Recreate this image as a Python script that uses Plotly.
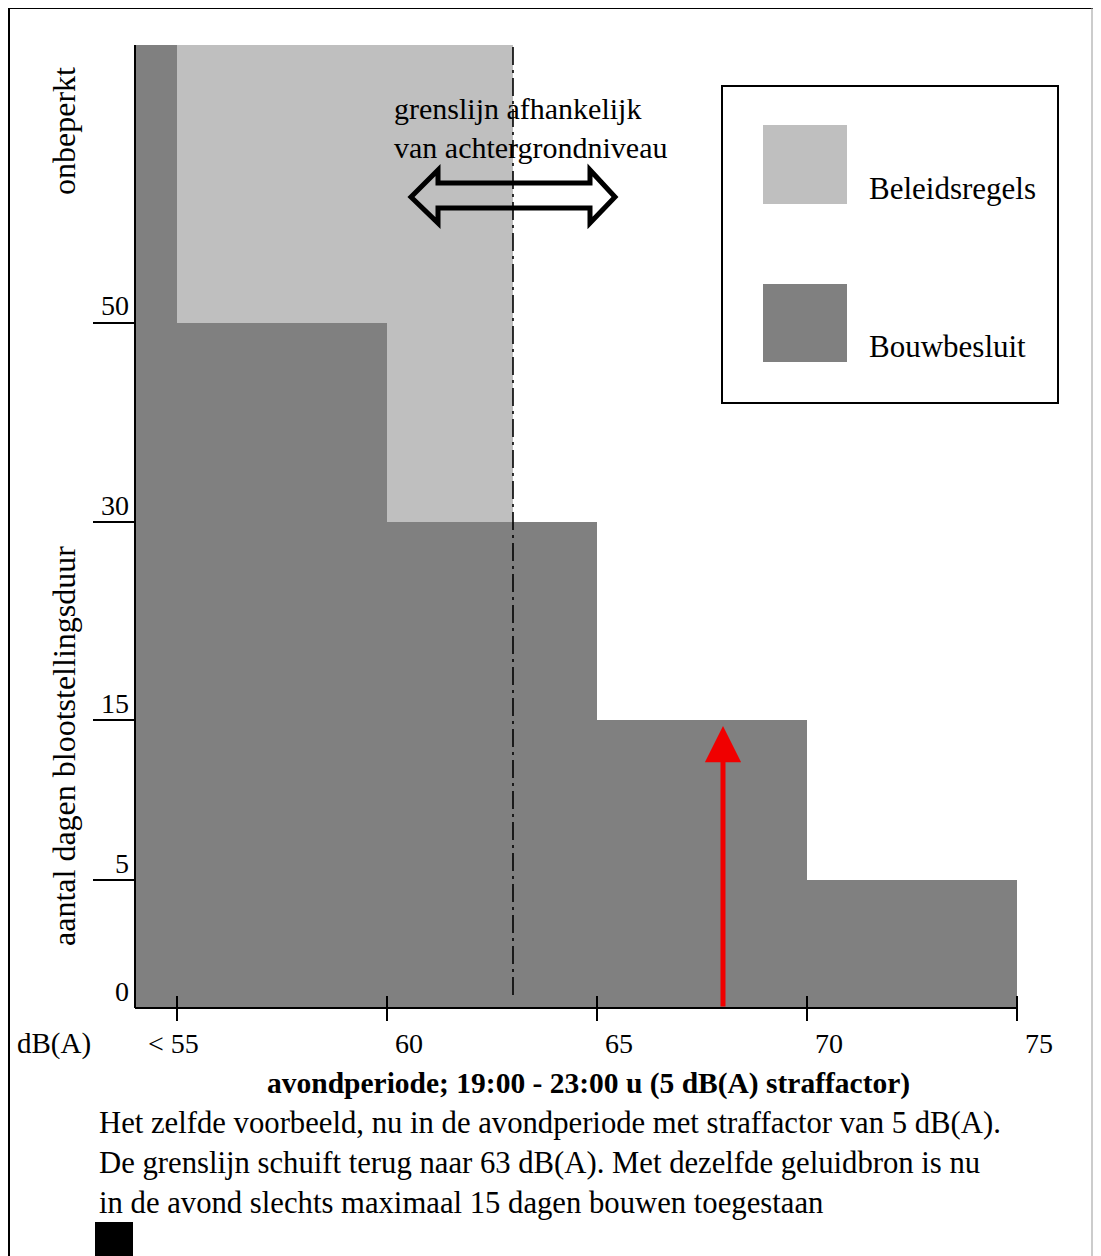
import numpy as np
import plotly.graph_objects as go

# ---------------- data ----------------
db_edges = [54, 55, 60, 65, 70, 75]                 # dB(A) interval edges
bouwbesluit_days = ["onbeperkt", 50, 30, 15, 5]     # max days per interval
beleidsregels_start = 55
grenslijn_db = 63                                   # boundary line (evening)
beleidsregels_days = "onbeperkt"
x_tick_vals = [55, 60, 65, 70, 75]
x_tick_text = ["< 55", "60", "65", "70", "75"]
y_tick_days = [0, 5, 15, 30, 50]
y_tick_text = ["0", "5", "15", "30", "50"]
bron_db = 68                                        # example noise source
bron_days = 15

# ---------------- axis scale (piecewise, as drawn in the original) ----------------
Y_SCALE_DAYS = [0, 5, 15, 30, 50]
Y_SCALE_UNITS = [0, 128, 288, 486, 685]
Y_TOP = 963


def yv(d):
    if d == "onbeperkt":
        return Y_TOP
    return float(np.interp(d, Y_SCALE_DAYS, Y_SCALE_UNITS))


# ---------------- layout geometry (page pixels; body has 8px margin) ----------------
OFF = 8
WIDTH, HEIGHT = 1101 - OFF, 1256 - OFF
L, T, R, B = 135, 45, 1060, 1008          # plot area in page pixels
PX_PER_DB = 42
PW, PH = R - L, B - T
X_RANGE = [db_edges[0], db_edges[0] + PW / PX_PER_DB]


def pxx(px):
    return (px - L) / PW


def pxy(py):
    return (B - py) / PH


def xpaper(v):          # x data value -> paper (via the linear x axis)
    return (v - X_RANGE[0]) / (X_RANGE[1] - X_RANGE[0])


def ypaper(u):          # y axis unit -> paper
    return u / Y_TOP


FONT = "Liberation Serif, Times New Roman, serif"
DARK = "#808080"
LIGHT = "#bfbfbf"

fig = go.Figure()

# Beleidsregels (light) underneath
fig.add_trace(go.Bar(
    x=[(beleidsregels_start + grenslijn_db) / 2],
    width=[grenslijn_db - beleidsregels_start],
    y=[yv(beleidsregels_days)],
    marker=dict(color=LIGHT, line=dict(width=0)),
    name="Beleidsregels", showlegend=False, hoverinfo="skip",
))

# Bouwbesluit (dark) steps
centers = [(a + b) / 2 for a, b in zip(db_edges[:-1], db_edges[1:])]
widths = [b - a for a, b in zip(db_edges[:-1], db_edges[1:])]
fig.add_trace(go.Bar(
    x=centers, width=widths, y=[yv(d) for d in bouwbesluit_days],
    marker=dict(color=DARK, line=dict(width=0)),
    name="Bouwbesluit", showlegend=False, hoverinfo="skip",
))

# dash-dot boundary line
fig.add_trace(go.Scatter(
    x=[grenslijn_db, grenslijn_db], y=[13, Y_TOP], mode="lines",
    line=dict(color="black", width=1.6, dash="18px,5px,3px,5px"),
    showlegend=False, hoverinfo="skip",
))

shapes = []
# axes lines
shapes.append(dict(type="line", xref="paper", yref="paper", x0=0, x1=0,
                   y0=0, y1=1, line=dict(color="black", width=2)))
shapes.append(dict(type="line", xref="paper", yref="paper", x0=0, x1=xpaper(db_edges[-1]),
                   y0=0, y1=0, line=dict(color="black", width=2)))
# x ticks crossing the axis
for v in x_tick_vals:
    shapes.append(dict(type="line", xref="paper", yref="paper",
                       x0=xpaper(v), x1=xpaper(v), y0=pxy(996), y1=pxy(1021),
                       line=dict(color="black", width=2)))
# y ticks (long horizontal lines to the left)
for d in y_tick_days[1:]:
    shapes.append(dict(type="line", xref="paper", yref="paper",
                       x0=pxx(93), x1=0, y0=ypaper(yv(d)), y1=ypaper(yv(d)),
                       line=dict(color="black", width=2)))

# double outline arrow
pts = [(411, 197), (438, 170), (438, 183), (590, 183), (590, 170), (615, 197),
       (590, 223), (590, 208), (438, 208), (438, 223)]
path = "M " + " L ".join(f"{pxx(a):.5f},{pxy(b):.5f}" for a, b in pts) + " Z"
shapes.append(dict(type="path", xref="paper", yref="paper", path=path,
                   line=dict(color="black", width=5), fillcolor="rgba(0,0,0,0)"))

# legend box
shapes.append(dict(type="rect", xref="paper", yref="paper", x0=pxx(722), x1=pxx(1058),
                   y0=pxy(86), y1=pxy(403), line=dict(color="black", width=2),
                   fillcolor="white"))
shapes.append(dict(type="rect", xref="paper", yref="paper", x0=pxx(763), x1=pxx(847),
                   y0=pxy(125), y1=pxy(204), line=dict(width=0), fillcolor=LIGHT))
shapes.append(dict(type="rect", xref="paper", yref="paper", x0=pxx(763), x1=pxx(847),
                   y0=pxy(284), y1=pxy(362), line=dict(width=0), fillcolor=DARK))

# outer frame
shapes.append(dict(type="line", xref="paper", yref="paper", x0=pxx(9), x1=pxx(9),
                   y0=pxy(7), y1=pxy(1260), line=dict(color="black", width=2)))
shapes.append(dict(type="line", xref="paper", yref="paper", x0=pxx(8), x1=pxx(1093),
                   y0=pxy(8), y1=pxy(8), line=dict(color="black", width=2)))
shapes.append(dict(type="line", xref="paper", yref="paper", x0=pxx(1092), x1=pxx(1092),
                   y0=pxy(7), y1=pxy(1260), line=dict(color="#999999", width=1)))
# black square at bottom
shapes.append(dict(type="rect", xref="paper", yref="paper", x0=pxx(95), x1=pxx(133),
                   y0=pxy(1222), y1=pxy(1262), line=dict(width=0), fillcolor="black"))

ann = []


def txt(text, x, y, size=30, xanchor="left", angle=0, bold=False):
    if bold:
        text = f"<b>{text}</b>"
    ann.append(dict(text=text, xref="paper", yref="paper", x=pxx(x), y=pxy(y),
                    xanchor=xanchor, yanchor="middle", showarrow=False, textangle=angle,
                    font=dict(family=FONT, size=size, color="black")))


# x tick labels
x_label_shift = [-4, 22, 22, 22, 22]
for v, t, s in zip(x_tick_vals, x_tick_text, x_label_shift):
    ann.append(dict(text=t, xref="paper", yref="paper", x=xpaper(v), y=pxy(1043), xshift=s,
                    xanchor="center", yanchor="middle", showarrow=False,
                    font=dict(family=FONT, size=28, color="black")))
# y tick labels
for d, t in zip(y_tick_days, y_tick_text):
    ann.append(dict(text=t, xref="paper", yref="paper", x=pxx(131), y=ypaper(yv(d)),
                    yshift=17, xanchor="right", yanchor="middle", showarrow=False,
                    font=dict(family=FONT, size=28, color="black")))

txt("onbeperkt", 64, 131, size=32, angle=-90, xanchor="center")
txt("aantal dagen blootstellingsduur", 64, 746, size=32, angle=-90, xanchor="center")
txt("dB(A)", 54, 1043, size=29, xanchor="center")
txt("grenslijn afhankelijk", 392, 108, size=30)
txt("van achtergrondniveau", 392, 148, size=30)
txt("Beleidsregels", 867, 188, size=31)
txt("Bouwbesluit", 867, 347, size=31)
txt("avondperiode; 19:00 - 23:00 u (5 dB(A) straffactor)", 588, 1083, size=29.5,
    xanchor="center", bold=True)
txt("Het zelfde voorbeeld, nu in de avondperiode met straffactor van 5 dB(A).", 97, 1123, size=30.7)
txt("De grenslijn schuift terug naar 63 dB(A). Met dezelfde geluidbron is nu", 97, 1163, size=30.7)
txt("in de avond slechts maximaal 15 dagen bouwen toegestaan", 97, 1203, size=30.7)

# red arrow (example noise source at 68 dB(A) -> max 15 days)
ann.append(dict(x=bron_db, y=yv(bron_days), ax=bron_db, ay=0, xref="x", yref="y",
                axref="x", ayref="y", showarrow=True, arrowhead=2, arrowsize=1.45,
                arrowwidth=5, arrowcolor="#f00000", standoff=6, text=""))

fig.update_layout(
    width=WIDTH, height=HEIGHT,
    margin=dict(l=L - OFF, r=(WIDTH + OFF) - R, t=T - OFF, b=(HEIGHT + OFF) - B, pad=0),
    paper_bgcolor="white", plot_bgcolor="white",
    barmode="overlay", bargap=0, showlegend=False,
    xaxis=dict(range=X_RANGE, showgrid=False,
               zeroline=False, showline=False, showticklabels=False, ticks="",
               fixedrange=True),
    yaxis=dict(range=[0, Y_TOP], showgrid=False, zeroline=False, showline=False,
               showticklabels=False, ticks="", fixedrange=True),
    shapes=shapes, annotations=ann,
    font=dict(family=FONT),
)

fig.write_html("out.html")
